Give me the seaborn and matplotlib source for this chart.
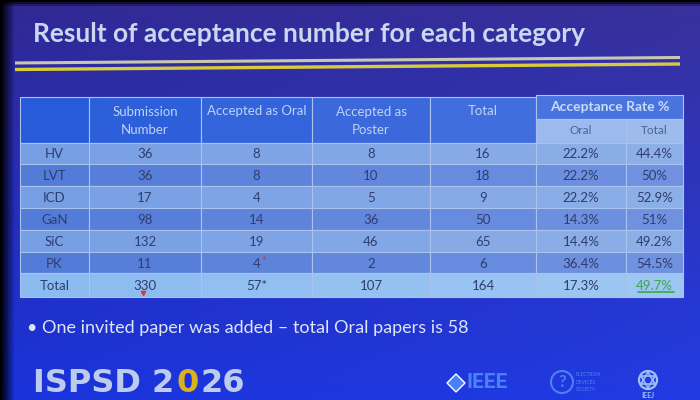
import numpy as np
import matplotlib
matplotlib.use("Agg")
import matplotlib.pyplot as plt
import seaborn as sns
from matplotlib.patches import Rectangle, Circle, RegularPolygon

# table data
categories = ["HV", "LVT", "ICD", "GaN", "SiC", "PK", "Total"]
submissions = ["36", "36", "17", "98", "132", "11", "330"]
accepted_oral = ["8", "8", "4", "14", "19", "4", "57*"]
accepted_poster = ["8", "10", "5", "36", "46", "2", "107"]
accepted_total = ["16", "18", "9", "50", "65", "6", "164"]
rate_oral = ["22.2%", "22.2%", "22.2%", "14.3%", "14.4%", "36.4%", "17.3%"]
rate_total = ["44.4%", "50%", "52.9%", "51%", "49.2%", "54.5%", "49.7%"]

header_main = ["", "Submission\nNumber", "Accepted as Oral", "Accepted as\nPoster", "Total"]
header_rate = "Acceptance Rate %"
header_sub = ["Oral", "Total"]

title = "Result of acceptance number for each category"
note = "One invited paper was added \u2013 total Oral papers is 58"
footer = ["ISPSD 2", "0", "26"]

sns.set_theme(style="white")
plt.rcParams["font.family"] = ["Lato", "DejaVu Sans"]

fig = plt.figure(figsize=(7, 4), dpi=100)
ax = fig.add_axes([0, 0, 1, 1])
ax.set_xlim(0, 700)
ax.set_ylim(400, 0)
ax.axis("off")

# slide background (photo of a projected slide: darker top/left edges)
h, w = 200, 350
ty = np.linspace(0, 1, h)[:, None]
tx = np.linspace(0, 1, w)[None, :]
top_c = np.array([0.19, 0.16, 0.58])
bot_c = np.array([0.10, 0.20, 0.86])
bg = top_c[None, None, :] * (1 - ty[..., None]) + bot_c[None, None, :] * ty[..., None]
bg = bg + 0.03 * tx[..., None]
edge = np.clip(tx * w / 7.0, 0, 1) * np.clip(ty * h / 3.0, 0, 1)
bg = np.clip(bg * edge[..., None], 0, 1)
ax.imshow(bg, extent=(0, 700, 400, 0), aspect="auto", zorder=0)

# title and rules
ax.text(33, 34, title, fontsize=19, fontweight="bold", color="#c9d8f0",
        va="center", ha="left", zorder=3)
ax.plot([15, 680], [63, 57.5], color="#c9c7b4", lw=2.2, solid_capstyle="butt", zorder=3)
ax.plot([15, 680], [69.5, 64], color="#d9cc3a", lw=2.4, solid_capstyle="butt", zorder=3)

# table geometry
col_edges = [20, 89, 201, 312, 430, 536, 626, 683]
row_edges = [143, 164, 186, 208, 230, 252, 273, 297]
head_top, head_mid = 97, 119

header_col = np.array([0.15, 0.35, 0.85])
light_row = np.array([0.46, 0.62, 0.89])
dark_row = np.array([0.32, 0.48, 0.85])
sub_col = np.array([0.54, 0.68, 0.92])
total_row = np.array([0.54, 0.73, 0.94])
grid_col = "#a9c3ee"
txt_dark = "#2f3d6e"
txt_head = "#bcd3f4"


def shade(base, xc):
    # projector light is brighter toward the right of the table
    f = 0.18 * (xc - col_edges[0]) / (col_edges[-1] - col_edges[0])
    return tuple(np.clip(base + (1 - base) * f, 0, 1))


def cell(x0, x1, y0, y1, base):
    ax.add_patch(Rectangle((x0, y0), x1 - x0, y1 - y0,
                           facecolor=shade(base, (x0 + x1) / 2),
                           edgecolor=grid_col, lw=0.8, zorder=2))


# header cells
for j in range(5):
    cell(col_edges[j], col_edges[j + 1], head_top, row_edges[0], header_col)
    if header_main[j]:
        ax.text((col_edges[j] + col_edges[j + 1]) / 2, 121 if "\n" in header_main[j] else 111,
                header_main[j], ha="center", va="center", fontsize=9.5,
                color=txt_head, linespacing=1.5, zorder=4)
cell(col_edges[5], col_edges[7], head_top - 2, head_mid, header_col)
ax.text((col_edges[5] + col_edges[7]) / 2, 107, header_rate, ha="center", va="center",
        fontsize=10, fontweight="bold", color="#c8dcf7", zorder=4)
for k in range(2):
    cell(col_edges[5 + k], col_edges[6 + k], head_mid, row_edges[0], sub_col)
    ax.text((col_edges[5 + k] + col_edges[6 + k]) / 2, 130.5, header_sub[k], ha="center",
            va="center", fontsize=8.5, color="#4b6294", zorder=4)

# body cells
columns = [categories, submissions, accepted_oral, accepted_poster,
           accepted_total, rate_oral, rate_total]
body_texts = {}
for i in range(len(categories)):
    if i == len(categories) - 1:
        base = total_row
    else:
        base = light_row if i % 2 == 0 else dark_row
    y0, y1 = row_edges[i], row_edges[i + 1]
    for j, col in enumerate(columns):
        x0, x1 = col_edges[j], col_edges[j + 1]
        cell(x0, x1, y0, y1, base)
        body_texts[(i, j)] = ax.text((x0 + x1) / 2, (y0 + y1) / 2 + 1, col[i],
                                     ha="center", va="center", fontsize=9.5,
                                     color=txt_dark, zorder=4)

# red markers and the green highlighted rate
pk = categories.index("PK")
tot = categories.index("Total")
ax.text((col_edges[2] + col_edges[3]) / 2 + 5, (row_edges[pk] + row_edges[pk + 1]) / 2 - 1,
        "*", color="#d23a3a", fontsize=8, ha="left", va="center", zorder=5)
ax.plot([(col_edges[1] + col_edges[2]) / 2 - 2], [row_edges[tot + 1] - 4], marker="v",
        ms=3, color="#d23a3a", zorder=5)
body_texts[(tot, 6)].set_color("#3aa84a")
ax.plot([638, 674], [292, 292], color="#3aa84a", lw=1.2, zorder=5)

# bullet note
ax.text(27, 328, "\u2022 " + note, fontsize=13, color="#dde6f8", ha="left", va="center",
        zorder=3)

# footer: conference logo, pieces placed one after another
renderer = fig.canvas.get_renderer()
x = 33
for piece, colr in zip(footer, ["#bccbee", "#d9b21e", "#bccbee"]):
    t = ax.text(x, 383, piece, fontsize=23, fontweight="bold", color=colr,
                ha="left", va="center", family=["DejaVu Sans"], zorder=3)
    bb = t.get_window_extent(renderer)
    x += bb.width + (2 if piece != footer[-1] else 0)

ax.add_patch(RegularPolygon((456, 383), 4, radius=9, facecolor="#4a82f2", zorder=3))
ax.text(466, 383, "IEEE", fontsize=15, fontweight="bold", color="#4a82f2",
        ha="left", va="center", family=["Roboto", "DejaVu Sans"], zorder=3)
ax.add_patch(Circle((562, 382), 11, facecolor="none", edgecolor="#4a82f2", lw=1.5, zorder=3))
ax.text(562, 382, "?", fontsize=12, fontweight="bold", color="#4a82f2",
        ha="center", va="center", zorder=3)
ax.text(576, 382, "ELECTRON\nDEVICES\nSOCIETY", fontsize=3.5, color="#4a82f2",
        ha="left", va="center", linespacing=1.6, zorder=3)
ax.add_patch(Circle((648, 380), 9, facecolor="none", edgecolor="#9fc0f5", lw=1.6, zorder=3))
ax.add_patch(RegularPolygon((648, 380), 3, radius=8, facecolor="none",
                            edgecolor="#9fc0f5", lw=1.2, zorder=3))
ax.add_patch(RegularPolygon((648, 380), 3, radius=8, orientation=np.pi,
                            facecolor="none", edgecolor="#9fc0f5", lw=1.2, zorder=3))
ax.text(648, 395, "IEEJ", fontsize=5, fontweight="bold", color="#9fc0f5",
        ha="center", va="center", zorder=3)

fig.savefig("out.png", dpi=100)
